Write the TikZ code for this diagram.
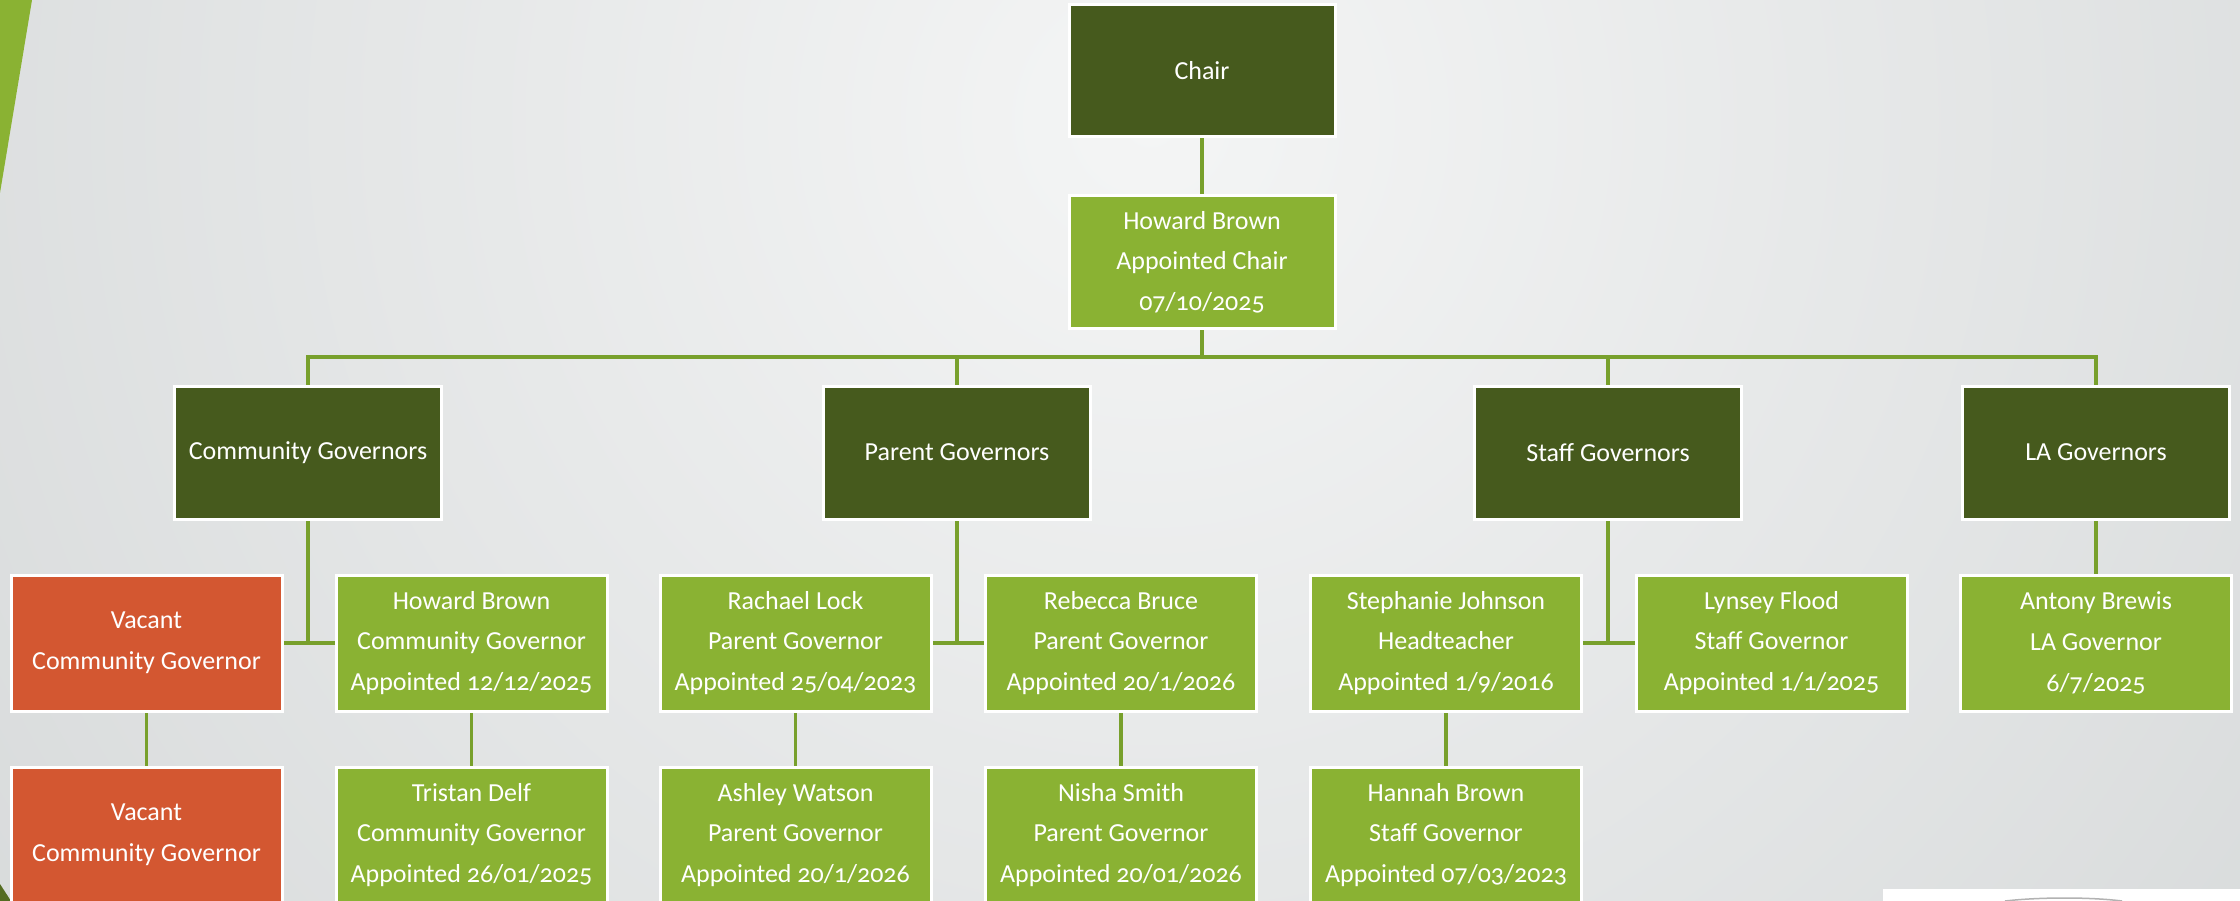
\documentclass[tikz,border=0pt]{standalone}
\usepackage{fontspec}
\setmainfont{Carlito}[Numbers=OldStyle]
\definecolor{darkg}{HTML}{465A1D}
\definecolor{lightg}{HTML}{8AB233}
\definecolor{vacant}{HTML}{D35731}
\definecolor{linkg}{HTML}{78A02C}
\definecolor{bgin}{HTML}{F4F5F5}
\definecolor{bgout}{HTML}{C3C7C8}
\pgfdeclarelayer{bg}
\pgfsetlayers{bg,main}
\tikzset{
  box/.style={draw=white, line width=3pt, inner sep=0pt, text=white, align=center,
    font=\fontsize{26}{40.7}\selectfont},
  top/.style={box, fill=darkg, minimum width=266pt, minimum height=132pt},
  cat/.style={box, fill=darkg, minimum width=267pt, minimum height=133pt},
  person/.style={box, fill=lightg, minimum width=271pt, minimum height=136pt},
  empty/.style={box, fill=vacant, minimum width=271pt, minimum height=136pt},
  link/.style={draw=linkg, line width=3.5pt}
}
\begin{document}
\begin{tikzpicture}[x=1pt,y=-1pt]
\useasboundingbox (0,0) rectangle (2240,901);
% nodes
\node[top] (chair) at (1202,71) {Chair};
\node[top, fill=lightg] (hb) at (1202,262) {Howard Brown\\Appointed Chair\\07/10/2025};
\node[cat] (comm) at (308,452.5) {Community Governors};
\node[cat] (par) at (957,452.5) {Parent Governors};
\node[cat] (staff) at (1608,452.5) {Staff Governors};
\node[cat] (la) at (2096,452.5) {LA Governors};
\node[empty] (vac1) at (146.5,643) {Vacant\\Community Governor};
\node[person] (howard) at (471.5,643) {Howard Brown\\Community Governor\\Appointed 12/12/2025};
\node[person] (rachael) at (795.5,643) {Rachael Lock\\Parent Governor\\Appointed 25/04/2023};
\node[person] (rebecca) at (1121,643) {Rebecca Bruce\\Parent Governor\\Appointed 20/1/2026};
\node[person] (steph) at (1446,643) {Stephanie Johnson\\Headteacher\\Appointed 1/9/2016};
\node[person] (lynsey) at (1771.5,643) {Lynsey Flood\\Staff Governor\\Appointed 1/1/2025};
\node[person] (antony) at (2096,643) {Antony Brewis\\LA Governor\\6/7/2025};
\node[empty] (vac2) at (146.5,835) {Vacant\\Community Governor};
\node[person] (tristan) at (471.5,835) {Tristan Delf\\Community Governor\\Appointed 26/01/2025};
\node[person] (ashley) at (795.5,835) {Ashley Watson\\Parent Governor\\Appointed 20/1/2026};
\node[person] (nisha) at (1121,835) {Nisha Smith\\Parent Governor\\Appointed 20/01/2026};
\node[person] (hannah) at (1446,835) {Hannah Brown\\Staff Governor\\Appointed 07/03/2023};
\coordinate (bus) at (0,357);
\begin{pgfonlayer}{bg}
  \begin{scope}
    \clip (0,0) rectangle (2240,901);
    \shade[inner color=bgin, outer color=bgout] (1150,120) circle (2500);
    \fill[lightg] (0,0) -- (32,0) -- (0,193) -- cycle;
    \fill[darkg!80!lightg] (0,884) -- (11,901) -- (0,901) -- cycle;
    \fill[white] (1883,889) rectangle (2240,901);
    \draw[gray!60, line width=1.5pt] (2005,901) .. controls (2040,897) and (2090,897) .. (2122,901);
  \end{scope}
  % connectors
  \draw[link] (chair.south) -- (hb.north);
  \draw[link] (hb.south) -- (hb.south |- bus);
  \draw[link] (comm.north) -- (comm.north |- bus) -- (la.north |- bus) -- (la.north);
  \draw[link] (par.north) -- (par.north |- bus);
  \draw[link] (staff.north) -- (staff.north |- bus);
  \draw[link] (comm.south) -- (comm.south |- vac1.east);
  \draw[link] (vac1.east) -- (howard.west);
  \draw[link] (par.south) -- (par.south |- rachael.east);
  \draw[link] (rachael.east) -- (rebecca.west);
  \draw[link] (staff.south) -- (staff.south |- steph.east);
  \draw[link] (steph.east) -- (lynsey.west);
  \draw[link] (la.south) -- (antony.north);
  \draw[link] (vac1.south) -- (vac2.north);
  \draw[link] (howard.south) -- (tristan.north);
  \draw[link] (rachael.south) -- (ashley.north);
  \draw[link] (rebecca.south) -- (nisha.north);
  \draw[link] (steph.south) -- (hannah.north);
\end{pgfonlayer}
\end{tikzpicture}
\end{document}
